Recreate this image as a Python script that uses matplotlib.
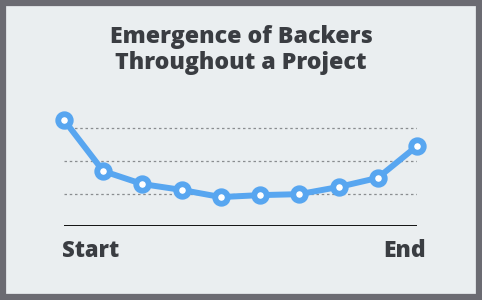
import matplotlib.pyplot as plt
from matplotlib.patches import Rectangle

# backer share per phase of the project (start -> end)
phases = list(range(10))
backers = [3.26, 1.69, 1.29, 1.11, 0.89, 0.95, 0.98, 1.20, 1.48, 2.46]
grid_levels = [1, 2, 3]

bg = '#eaeef0'
blue = '#58a6f0'
dark = '#3a3d42'

fig = plt.figure(figsize=(4.82, 3.0), dpi=100, facecolor=bg)
ax = fig.add_axes([64 / 482, 74 / 300, 353 / 482, 130 / 300])
ax.set_facecolor(bg)

for g in grid_levels:
    ax.axhline(g, color='#8a8d90', lw=0.9, ls=(0, (2, 2.2)), zorder=1)
ax.axhline(0, color='black', lw=1.3, zorder=1)

ax.plot(phases, backers, color=blue, lw=4.3, marker='o', ms=9,
        mfc='white', mec=blue, mew=4.2, clip_on=False, zorder=3)

ax.set_xlim(0, 9)
ax.set_ylim(0, 4)
ax.axis('off')

fig.text(0.5, 1 - 43 / 300, 'Emergence of Backers', ha='center',
         va='baseline', fontsize=16.7, fontweight='heavy', color=dark,
         family='Open Sans')
fig.text(0.5, 1 - 69 / 300, 'Throughout a Project', ha='center',
         va='baseline', fontsize=16.7, fontweight='heavy', color=dark,
         family='Open Sans')
fig.text(62 / 482, 1 - 257 / 300, 'Start', ha='left', va='baseline',
         fontsize=15.8, fontweight='heavy', color=dark, family='Open Sans')
fig.text(426 / 482, 1 - 257 / 300, 'End', ha='right', va='baseline',
         fontsize=16.5, fontweight='heavy', color=dark, family='Open Sans')

# rough gray frame
fig.patches.append(Rectangle((3 / 482, 3 / 300), 476 / 482, 294 / 300,
                             transform=fig.transFigure, fill=False,
                             ec='#6b6b72', lw=4.5))

fig.savefig('out.png', dpi=100, facecolor=bg)
